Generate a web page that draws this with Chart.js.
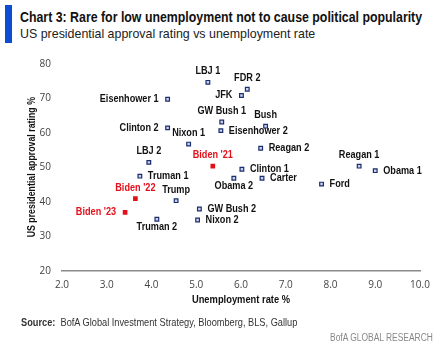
<!DOCTYPE html>
<html>
<head>
<meta charset="utf-8">
<script src="https://cdn.jsdelivr.net/npm/chart.js@4/dist/chart.umd.min.js"></script>
<style>
  body { margin: 0; background: #fff; width: 443px; height: 347px; overflow: hidden; position: relative; font-family: "Liberation Sans", sans-serif; }
  #chart-canvas { position: absolute; left: 0; top: 0; }
  .bar { position: absolute; left: 5px; top: 5px; width: 7px; height: 38px; background: #0b4fd0; }
  .fit { position: absolute; white-space: nowrap; transform-origin: left top; }
  .title { left: 20px; top: 9px; font-size: 14.5px; line-height: 17px; font-weight: bold; color: #111; }
  .subtitle { left: 20px; top: 26px; font-size: 13px; line-height: 16px; color: #222; }
  .source { left: 21px; top: 316px; font-size: 11px; line-height: 13px; color: #333; }
  .brand { left: 330px; top: 332px; font-size: 10px; line-height: 12px; color: #888; }
</style>
</head>
<body>
<div class="bar"></div>
<div class="fit title" data-w="402">Chart 3: Rare for low unemployment not to cause political popularity</div>
<div class="fit subtitle" data-w="295">US presidential approval rating vs unemployment rate</div>
<canvas id="chart-canvas" width="443" height="347"></canvas>
<div class="fit source" data-w="276"><b>Source:</b>&nbsp; BofA Global Investment Strategy, Bloomberg, BLS, Gallup</div>
<div class="fit brand" data-w="103">BofA GLOBAL RESEARCH</div>

<script>
// Presidential terms (navy markers)
const termNames = ['LBJ 1', 'FDR 2', 'JFK', 'Eisenhower 1', 'GW Bush 1', 'Eisenhower 2', 'Bush',
  'Clinton 2', 'Nixon 1', 'Reagan 2', 'LBJ 2', 'Clinton 1', 'Reagan 1', 'Obama 1', 'Obama 2',
  'Carter', 'Ford', 'Truman 1', 'Trump', 'Truman 2', 'GW Bush 2', 'Nixon 2'];
const termUnemployment = [5.26, 6.14, 6.01, 4.36, 5.57, 5.55, 6.55,
  4.36, 4.83, 6.44, 3.94, 6.02, 8.64, 9.0, 5.84,
  6.47, 7.8, 3.74, 4.55, 4.12, 5.07, 5.03];
const termApproval = [74.6, 72.6, 70.8, 69.7, 63.1, 60.6, 61.9,
  61.4, 56.7, 55.5, 51.4, 49.4, 50.3, 49.0, 46.8,
  46.8, 45.1, 47.4, 40.3, 34.9, 37.9, 34.7];

// Biden years (red markers)
const bidenNames = ["Biden '21", "Biden '22", "Biden '23"];
const bidenUnemployment = [5.37, 3.64, 3.41];
const bidenApproval = [50.3, 40.9, 36.9];

// Axis ticks
const xTicks = [2, 3, 4, 5, 6, 7, 8, 9, 10];
const yTicks = [20, 30, 40, 50, 60, 70, 80];

document.addEventListener('DOMContentLoaded', function() {
  const canvas = document.getElementById('chart-canvas');

  // no narrow font installed, so squeeze the header/footer text to the original widths
  document.querySelectorAll('.fit').forEach(function(el) {
    const target = Number(el.dataset.w);
    el.style.transform = 'scaleX(' + (target / el.scrollWidth) + ')';
  });

  // where each label sits next to its marker
  const termPlace = ['above', 'above', 'left', 'left', 'above', 'right', 'above',
    'left', 'above', 'right', 'above', 'right', 'above', 'right', 'below',
    'right', 'right', 'right', 'above', 'below', 'right', 'right'];
  const bidenPlace = ['above', 'above', 'left'];

  const boldFont = 'bold 11px "Liberation Sans", sans-serif';

  function toPoints(xs, ys) {
    return xs.map(function(x, i) { return { x: x, y: ys[i] }; });
  }

  // condensed text: draw with a horizontal squeeze
  function narrowText(ctx, text, x, y, align, squeeze, angle) {
    ctx.save();
    ctx.translate(x, y);
    if (angle) ctx.rotate(angle);
    ctx.scale(squeeze, 1);
    ctx.textAlign = align;
    ctx.textBaseline = 'middle';
    ctx.fillText(text, 0, 0);
    ctx.restore();
  }

  // Names next to the points plus the two axis titles
  const pointLabels = {
    id: 'pointLabels',
    afterDatasetsDraw: function(chart) {
      const ctx = chart.ctx;
      const area = chart.chartArea;
      ctx.save();
      ctx.font = boldFont;
      chart.data.datasets.forEach(function(ds, di) {
        const meta = chart.getDatasetMeta(di);
        ctx.fillStyle = ds.labelColor;
        meta.data.forEach(function(pt, i) {
          const place = ds.places[i];
          if (place === 'above') narrowText(ctx, ds.names[i], pt.x, pt.y - 11, 'center', 0.83);
          else if (place === 'below') narrowText(ctx, ds.names[i], pt.x, pt.y + 8, 'center', 0.83);
          else if (place === 'left') narrowText(ctx, ds.names[i], pt.x - 9, pt.y, 'right', 0.83);
          else narrowText(ctx, ds.names[i], pt.x + 8, pt.y, 'left', 0.83);
        });
      });
      ctx.fillStyle = '#111';
      narrowText(ctx, 'Unemployment rate %', (area.left + area.right) / 2, 300, 'center', 0.85);
      narrowText(ctx, 'US presidential approval rating %', 32, (area.top + area.bottom) / 2, 'center', 0.8, -Math.PI / 2);
      ctx.restore();
    }
  };

  new Chart(canvas, {
    type: 'scatter',
    data: {
      datasets: [{
        data: toPoints(termUnemployment, termApproval),
        names: termNames,
        places: termPlace,
        labelColor: '#111',
        pointStyle: 'rect',
        pointRadius: 2.6,
        backgroundColor: '#c8d2ea',
        borderColor: '#1b2d6e',
        borderWidth: 1.2
      }, {
        data: toPoints(bidenUnemployment, bidenApproval),
        names: bidenNames,
        places: bidenPlace,
        labelColor: '#e3101a',
        pointStyle: 'rect',
        pointRadius: 3.3,
        backgroundColor: '#e3101a',
        borderColor: '#e3101a',
        borderWidth: 0
      }]
    },
    options: {
      responsive: false,
      devicePixelRatio: 1,
      animation: false,
      events: [],
      layout: { padding: { top: 63.7, right: 23, bottom: 36.3, left: 0 } },
      plugins: { legend: { display: false }, tooltip: { enabled: false } },
      scales: {
        x: {
          type: 'linear',
          min: 2,
          max: 10,
          afterFit: function(s) { s.height = 40; },
          afterBuildTicks: function(s) { s.ticks = xTicks.map(function(v) { return { value: v }; }); },
          grid: { display: false, drawTicks: false, tickLength: 0 },
          border: { display: true, color: '#8a8a8a', width: 1.5 },
          ticks: {
            padding: 8,
            color: '#444',
            font: { family: 'Open Sans', size: 10 },
            callback: function(v) { return v.toFixed(1); }
          }
        },
        y: {
          type: 'linear',
          min: 20,
          max: 80,
          afterFit: function(s) { s.width = 62; },
          afterBuildTicks: function(s) { s.ticks = yTicks.map(function(v) { return { value: v }; }); },
          grid: { display: false, drawTicks: false, tickLength: 0 },
          border: { display: false },
          ticks: {
            padding: 11,
            color: '#444',
            font: { family: 'Open Sans', size: 10 }
          }
        }
      }
    },
    plugins: [pointLabels]
  });
});
</script>
</body>
</html>
